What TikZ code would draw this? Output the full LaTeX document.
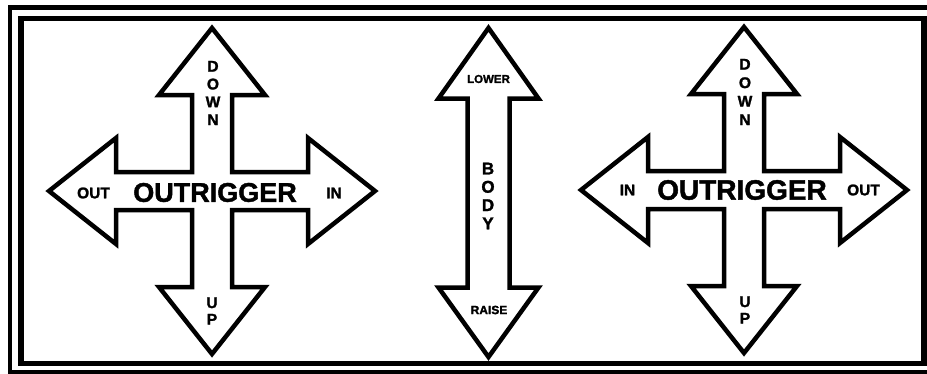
\documentclass[tikz,border=0pt]{standalone}
\usepackage{fontspec}
\setmainfont{Liberation Sans}
\newfontfamily\heavy{Liberation Sans Bold}[FakeBold=1.6]
\begin{document}
\begin{tikzpicture}[x=1pt,y=-1pt,
  arrowshape/.style={draw=black, line width=4.5pt, fill=white, line join=miter, miter limit=10},
  lbl/.style={inner sep=0pt, text=black, align=center},
  big/.style={font=\heavy\fontsize{27}{27}\selectfont},
  mid/.style={font=\heavy\fontsize{15.5}{15.5}\selectfont},
  pics/crossarrow/.style={code={
    \draw[arrowshape] (0,-163) -- (53,-96) -- (20,-96) -- (20,-19) -- (96,-19) -- (96,-53)
      -- (163,0) -- (96,53) -- (96,19) -- (20,19) -- (20,96) -- (53,96)
      -- (0,163) -- (-53,96) -- (-20,96) -- (-20,19) -- (-96,19) -- (-96,53)
      -- (-163,0) -- (-96,-53) -- (-96,-19) -- (-20,-19) -- (-20,-96) -- (-53,-96) -- cycle;
  }}]
\useasboundingbox (0,0) rectangle (927,373);
\fill[white] (0,0) rectangle (927,373);
% frame
\draw[line width=4.5pt] (10,7.5) rectangle (940,372.5);
\draw[line width=5.5pt] (21,18.5) rectangle (924,363.5);

% left outrigger cross
\pic (lc) at (212,191) {crossarrow};
\node[lbl,big] (lrig) at (215,192.5) {OUTRIGGER};
\node[lbl,mid] (lout) at (93.5,193) {OUT};
\node[lbl,mid] (lin) at (334,193) {IN};
\node[lbl,font=\heavy\fontsize{15.5}{17.8}\selectfont] (ldown) at (213,93) {D\\O\\W\\N};
\node[lbl,font=\heavy\fontsize{15.5}{16.5}\selectfont] (lup) at (212,311) {U\\P};

% body arrow
\draw[arrowshape] (488.5,28) -- (538.5,98.5) -- (509.5,98.5) -- (509.5,287.5) -- (538.5,287.5)
  -- (488.5,357) -- (438.5,287.5) -- (467.5,287.5) -- (467.5,98.5) -- (438.5,98.5) -- cycle;
\node[lbl,font=\heavy\fontsize{11.5}{11.5}\selectfont] (lower) at (488.5,79) {LOWER};
\node[lbl,font=\heavy\fontsize{12}{12}\selectfont] (raise) at (489,310) {RAISE};
\node[lbl,font=\heavy\fontsize{17}{18.3}\selectfont] (body) at (488,196) {B\\O\\D\\Y};

% right outrigger cross
\pic (rc) at (744,190) {crossarrow};
\node[lbl,font=\heavy\fontsize{28}{28}\selectfont] (rrig) at (742,190) {OUTRIGGER};
\node[lbl,mid] (rin) at (627.5,190) {IN};
\node[lbl,mid] (rout) at (863.5,190) {OUT};
\node[lbl,font=\heavy\fontsize{15.5}{18.5}\selectfont] (rdown) at (745,92) {D\\O\\W\\N};
\node[lbl,font=\heavy\fontsize{15.5}{16.5}\selectfont] (rup) at (745,310) {U\\P};
\end{tikzpicture}
\end{document}
